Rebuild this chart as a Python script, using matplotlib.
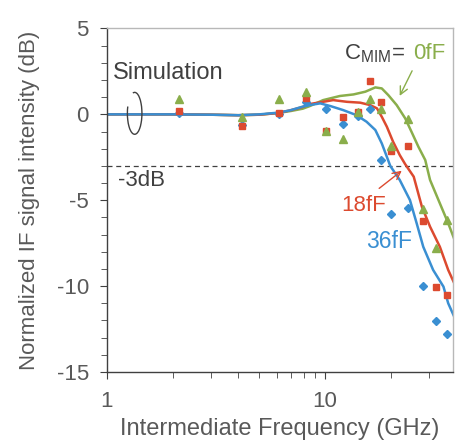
import matplotlib.pyplot as plt
from matplotlib.patches import Arc
from matplotlib.ticker import MultipleLocator, LogLocator, NullFormatter

plt.rcParams['font.family'] = ['Liberation Sans', 'DejaVu Sans']
plt.rcParams['axes.unicode_minus'] = False

# measured points (GHz, dB)
f_meas = [2.15, 4.15, 6.13, 8.16, 10.1, 12.1, 14.1, 16.1, 18.1, 20.1, 24.05, 28.0, 32.1, 36.1]
db_0fF = [0.91, -0.16, 0.91, 1.30, -0.97, -1.41, 0.13, 0.89, 0.29, -1.84, -0.27, -5.53, -7.80, -6.15]
db_18fF = [0.19, -0.68, 0.08, 0.97, -0.97, -0.16, 0.13, 1.94, 0.74, -2.15, -1.84, -6.19, -10.03, -10.50]
db_36fF = [0.10, -0.60, 0.05, 0.72, 0.31, -0.58, -0.12, 0.31, -2.64, -5.82, -5.47, -9.99, -12.03, -12.80]

# simulation curves
f_sim_0 = [1, 2, 3, 4, 5, 6.1, 7.0, 7.9, 8.5, 9.8, 11.7, 13.5, 15.3, 17.0, 18.2, 19.5, 21.3,
           23.3, 24.9, 26.8, 28.8, 30.3, 33.6, 36.7, 39.8]
db_sim_0 = [0, 0, -0.02, -0.05, -0.02, 0.08, 0.2, 0.33, 0.48, 0.83, 1.07, 1.16, 1.32, 1.57, 1.51,
            1.12, 0.54, -0.23, -1.01, -1.89, -2.66, -3.82, -5.18, -6.34, -7.51]
f_sim_18 = [1, 2, 3, 4, 5, 6.1, 7.0, 7.9, 8.5, 9.8, 10.9, 12.6, 14.5, 16.1, 17.3, 18.2, 19.2,
            20.5, 22.0, 23.3, 25.5, 27.8, 30.3, 33.6, 36.7, 39.8]
db_sim_18 = [0, 0, -0.02, -0.05, -0.02, 0.08, 0.25, 0.43, 0.6, 0.73, 0.83, 0.73, 0.68, 0.54, 0.35,
             -0.14, -0.72, -1.59, -2.37, -2.9, -3.63, -5.38, -6.54, -7.71, -9.06, -10.04]
f_sim_36 = [1, 2, 3, 4, 5, 6.1, 6.9, 7.9, 8.5, 9.5, 10.6, 12.1, 13.9, 15.5, 17.0, 18.2, 19.2,
            19.9, 22.0, 24.5, 26.3, 28.2, 31.3, 34.9, 36.7, 39.8]
db_sim_36 = [0, 0, -0.02, -0.05, 0.0, 0.1, 0.23, 0.45, 0.54, 0.64, 0.48, 0.25, -0.04, -0.43, -0.91,
             -1.69, -2.47, -3.0, -3.82, -4.99, -6.34, -7.71, -9.06, -10.03, -11.0, -12.0]

green = '#8aae4b'
red = '#dc4a2f'
blue = '#3a8fd2'
txt = '#404040'

fig = plt.figure(figsize=(4.56, 4.43), dpi=100)
ax = fig.add_axes([0.2346, 0.1603, 0.7588, 0.7754])

ax.plot(f_sim_0, db_sim_0, color=green, lw=1.8, zorder=2)
ax.plot(f_sim_18, db_sim_18, color=red, lw=1.8, zorder=2)
ax.plot(f_sim_36, db_sim_36, color=blue, lw=1.8, zorder=2)

ax.plot(f_meas, db_36fF, 'D', color=blue, ms=3.8, ls='none', zorder=3)
ax.plot(f_meas, db_18fF, 's', color=red, ms=5, ls='none', zorder=4)
ax.plot(f_meas, db_0fF, '^', color=green, ms=5.5, ls='none', zorder=5)

ax.axhline(-3, color='#404040', lw=0.9, ls=(0, (4, 3)), zorder=1)

ax.set_xscale('log')
ax.set_xlim(1, 38.6)
ax.set_ylim(-15, 5)
ax.yaxis.set_major_locator(MultipleLocator(5))
ax.yaxis.set_minor_locator(MultipleLocator(1))
ax.xaxis.set_minor_locator(LogLocator(base=10, subs=range(2, 10)))
ax.xaxis.set_minor_formatter(NullFormatter())
ax.set_xticks([1, 10])
ax.set_xticklabels(['1', '10'])

for s in ['left', 'bottom']:
    ax.spines[s].set_color('#404040')
    ax.spines[s].set_linewidth(1.0)
for s in ['top', 'right']:
    ax.spines[s].set_color('#b8b8b8')
    ax.spines[s].set_linewidth(1.0)

ax.tick_params(which='major', direction='out', length=5, color='#404040',
               labelsize=16, labelcolor='#595959')
ax.tick_params(which='minor', direction='out', length=4, color='#404040')
ax.tick_params(axis='x', which='both', top=False, pad=9)
ax.tick_params(axis='y', which='both', right=False, pad=8)

ax.set_xlabel('Intermediate Frequency (GHz)', fontsize=17, color='#595959', labelpad=4)
ax.set_ylabel('Normalized IF signal intensity (dB)', fontsize=16, color='#595959', labelpad=12)

ax.text(1.065, 2.38, 'Simulation', fontsize=17, color=txt, va='center', ha='left')
ax.text(1.12, -3.88, '-3dB', fontsize=16, color=txt, va='center', ha='left')
ax.text(12.2, 3.53, r'C$_{\mathregular{MIM}}$=', fontsize=16, color=txt, va='center', ha='left')
ax.text(25.4, 3.53, '0fF', fontsize=16, color=green, va='center', ha='left')
ax.text(11.9, -5.28, '18fF', fontsize=16, color=red, va='center', ha='left')
ax.text(15.5, -7.41, '36fF', fontsize=16.5, color=blue, va='center', ha='left')

ax.annotate('', xy=(21.7, 0.93), xytext=(25.4, 2.68),
            arrowprops=dict(arrowstyle='->', color=green, lw=1.0, mutation_scale=14))
ax.annotate('', xy=(23.0, -3.18), xytext=(17.3, -4.41),
            arrowprops=dict(arrowstyle='->', color=red, lw=1.0, mutation_scale=14))

# loop around simulation curves
ax.add_patch(Arc((0.080, 0.753), 0.042, 0.122, theta1=135, theta2=455,
                 transform=ax.transAxes, color='#404040', lw=1.0, zorder=6))

fig.savefig('out.png', dpi=100)
